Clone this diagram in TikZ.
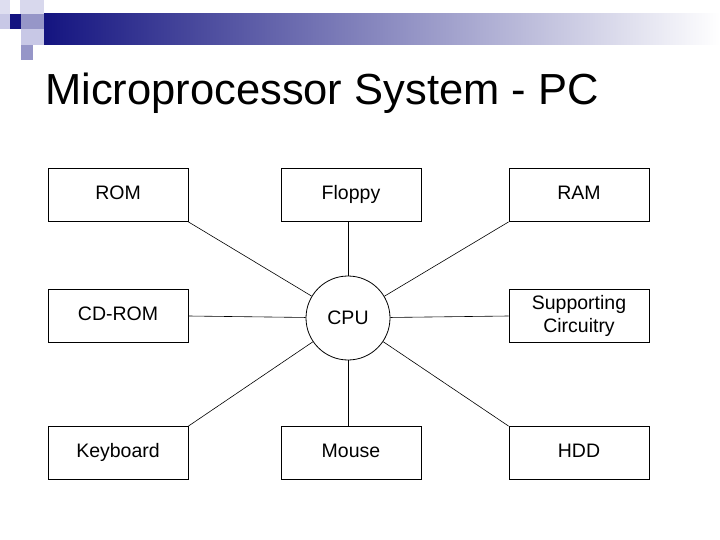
\documentclass[tikz,border=0pt]{standalone}
\usepackage{fontspec}
\setmainfont{Liberation Sans}
\begin{document}
\begin{tikzpicture}[x=1pt,y=-1pt,
  box/.style={draw,thick,minimum width=140pt,minimum height=53pt,inner sep=0pt,font=\fontsize{19.5}{23}\selectfont,align=center},
  link/.style={draw,line width=0.6pt}]
\useasboundingbox (0,0) rectangle (720,540);
\definecolor{navy}{RGB}{20,20,128}
\definecolor{lav}{RGB}{200,200,230}
\definecolor{midp}{RGB}{150,150,200}
\shade[left color=navy,right color=white] (44,14) rectangle (720,45);
\fill[lav!60] (0,0) rectangle (10,14);
\fill[lav!70] (20,0) rectangle (44,14);
\fill[navy] (10,14) rectangle (21,29);
\fill[lav] (0,14) rectangle (10,29);
\fill[midp] (21,14) rectangle (44,29);
\fill[lav] (21,29) rectangle (44,45);
\fill[midp] (21,45) rectangle (33,60);
\node[anchor=base west,font=\fontsize{43.5}{48}\selectfont,inner sep=0pt] (title) at (45,105) {Microprocessor System - PC};
\node[box] (rom) at (118,195) {\strut ROM};
\node[box] (floppy) at (351,195) {\strut Floppy};
\node[box] (ram) at (579,195) {\strut RAM};
\node[box] (cdrom) at (118,316) {\strut CD-ROM};
\node[box] (sup) at (579,316) {Supporting\\Circuitry};
\node[box] (kbd) at (118,453) {\strut Keyboard};
\node[box] (mouse) at (351,453) {\strut Mouse};
\node[box] (hdd) at (579,453) {\strut HDD};
\node[draw,thick,circle,minimum size=84pt,inner sep=0pt,font=\fontsize{19.5}{23}\selectfont] (cpu) at (348,318) {CPU};
\draw[link] (rom.south east) -- (cpu);
\draw[link] (floppy.south -| cpu) -- (cpu);
\draw[link] (ram.south west) -- (cpu);
\draw[link] (cdrom.east) -- (cpu);
\draw[link] (sup.west) -- (cpu);
\draw[link] (kbd.north east) -- (cpu);
\draw[link] (mouse.north -| cpu) -- (cpu);
\draw[link] (hdd.north west) -- (cpu);
\end{tikzpicture}
\end{document}
